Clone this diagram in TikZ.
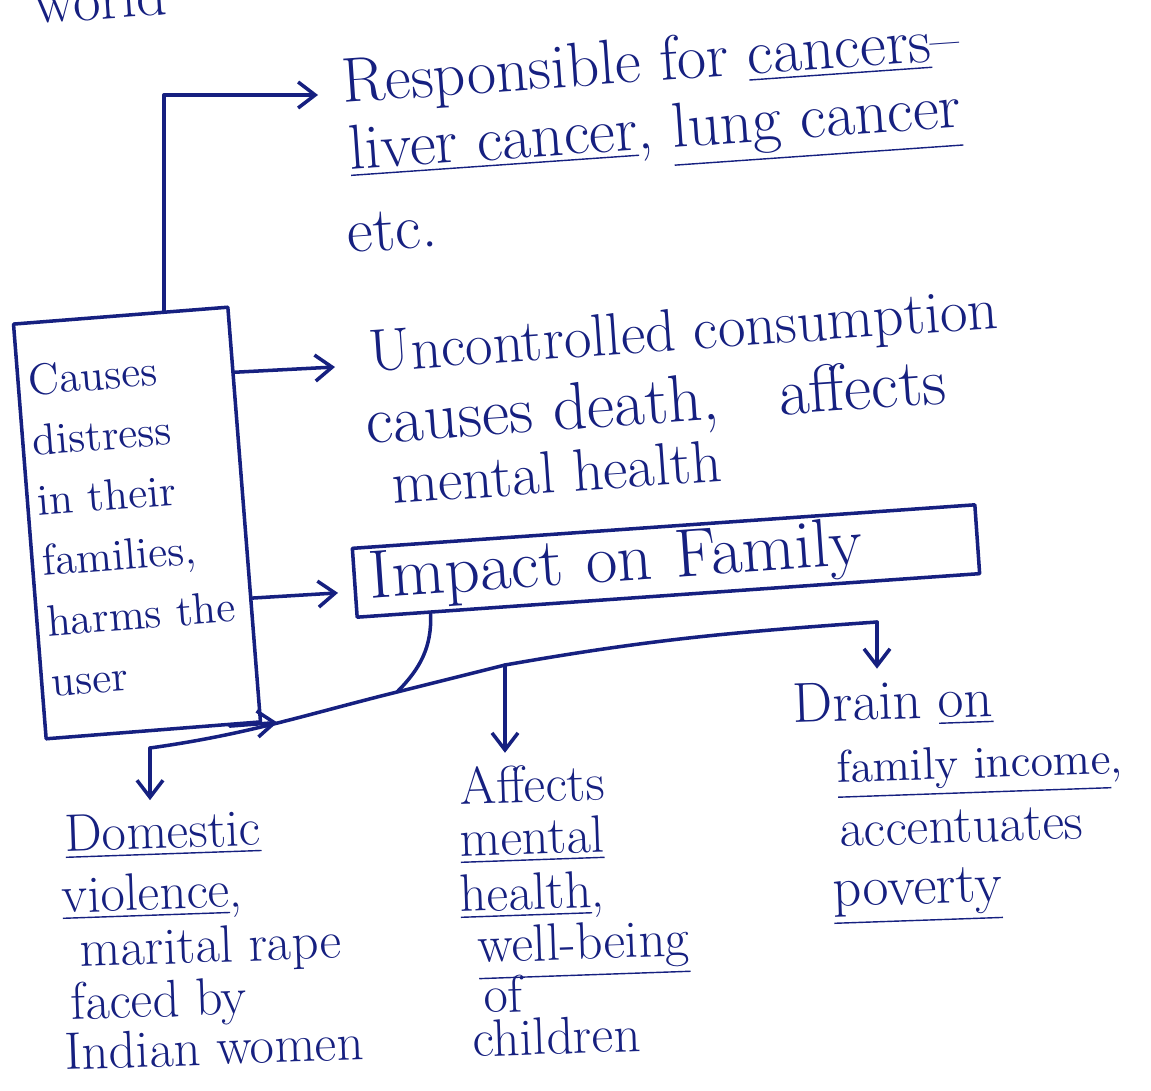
\documentclass[tikz,border=0pt]{standalone}
\usepackage{fontspec}
\usetikzlibrary{arrows.meta,calc}
\definecolor{ink}{RGB}{22,32,128}

\begin{document}
\begin{tikzpicture}[
  x=1cm,y=1cm,
  line cap=round,line join=round,
  >={Straight Barb[length=1.7mm,width=2.6mm]},
  pen/.style={draw=ink,line width=1pt},
  arrow/.style={pen,->},
  hitxt/.style={font=\fontsize{17}{20}\selectfont,text=ink,anchor=base west,inner xsep=0pt,rotate=4},
  lotxt/.style={font=\fontsize{15}{18}\selectfont,text=ink,anchor=base west,inner xsep=0pt,rotate=2},
  boxtxt/.style={pen,font=\fontsize{12.5}{17.2}\selectfont,text=ink,align=left,rotate=4.5}
]

% page
\path[use as bounding box,fill=white] (0,0) rectangle (11.51,10.90);

% end of the previous line, cut by the page edge
\node[hitxt] (world) at (.35,10.66) {world};

% central box
\node[boxtxt,text width=1.95cm,inner xsep=.1cm,minimum width=2.15cm,minimum height=4.16cm]
  (cause) at (1.37,5.67)
  {Causes\\distress\\in their\\families,\\harms the\\user};

% top statements
\node[hitxt,font=\fontsize{18}{21}\selectfont] (resp1) at (3.43,9.87)
  {Responsible for \underline{cancers}--};
\node[hitxt,font=\fontsize{18}{21}\selectfont] (resp2) at (3.50,9.20)
  {\underline{liver cancer}, \underline{lung cancer}};
\node[hitxt,font=\fontsize{18}{21}\selectfont] (resp3) at (3.48,8.37) {etc.};

\node[hitxt] (cons1) at (3.70,7.18) {Uncontrolled consumption};
\node[hitxt,font=\fontsize{19}{22}\selectfont] (cons2) at (3.67,6.46)
  {causes death,\hspace{.6em} affects};
\node[hitxt] (cons3) at (3.93,5.86) {mental health};

% family box
\node[pen,rotate=4,text=ink,font=\fontsize{19.5}{23}\selectfont,
  text width=5.94cm,align=left,inner xsep=.15cm,inner ysep=0pt,minimum height=.69cm]
  (impact) at (6.66,5.29) {Impact on Family};

% three consequences
\node[lotxt] (dom1) at (.65,2.38) {\underline{Domestic}};
\node[lotxt] (dom2) at (.62,1.77) {\underline{violence},};
\node[lotxt] (dom3) at (.80,1.23) {marital rape};
\node[lotxt] (dom4) at (.71,.70) {faced by};
\node[lotxt] (dom5) at (.65,.20) {Indian women};

\node[lotxt] (aff1) at (4.60,2.85) {Affects};
\node[lotxt] (aff2) at (4.60,2.33) {\underline{mental}};
\node[lotxt] (aff3) at (4.60,1.78) {\underline{health},};
\node[lotxt] (aff4) at (4.78,1.27) {\underline{well-being}};
\node[lotxt] (aff5) at (4.84,.77) {of};
\node[lotxt] (aff6) at (4.73,.33) {children};

\node[lotxt,font=\fontsize{16}{19}\selectfont] (drn1) at (7.93,3.67) {Drain \underline{on}};
\node[lotxt,font=\fontsize{13}{16}\selectfont] (drn2) at (8.37,3.07) {\underline{family income},};
\node[lotxt] (drn3) at (8.40,2.43) {accentuates};
\node[lotxt,font=\fontsize{16}{19}\selectfont] (drn4) at (8.33,1.83) {\underline{poverty}};

% arrows out of the box
\draw[arrow] ($(cause.north)!.4!(cause.north east)$)
  |- ([xshift=-.25cm,yshift=.08cm]resp1.base west);
\draw[arrow] ($(cause.north east)!.16!(cause.south east)$)
  -- ([xshift=-.35cm,yshift=.05cm]cons1.base west);
\draw[arrow] ($(cause.north east)!.70!(cause.south east)$)
  -- ([xshift=-.15cm,yshift=-.1cm]impact.west);
\draw[arrow] ($(cause.south west)!.85!(cause.south east)$)
  -- ($(cause.south east)+(4:.15)$);

% branching line under the family box
\coordinate (split) at (3.97,3.98);
\coordinate (lft) at (1.50,3.42);
\coordinate (mid) at (5.05,4.25);
\coordinate (rgt) at (8.77,4.68);
\draw[pen] ($(impact.south west)!.12!(impact.south east)$) to[out=-88,in=45] (split);
\draw[pen] (lft) to[out=8,in=194] (split) -- (mid) to[out=10,in=184] (rgt);
\draw[arrow] (lft) -- (lft |- dom1.north);
\draw[arrow] (mid) -- (mid |- aff1.north);
\draw[arrow] (rgt) -- (rgt |- drn1.north);

\end{tikzpicture}
\end{document}
